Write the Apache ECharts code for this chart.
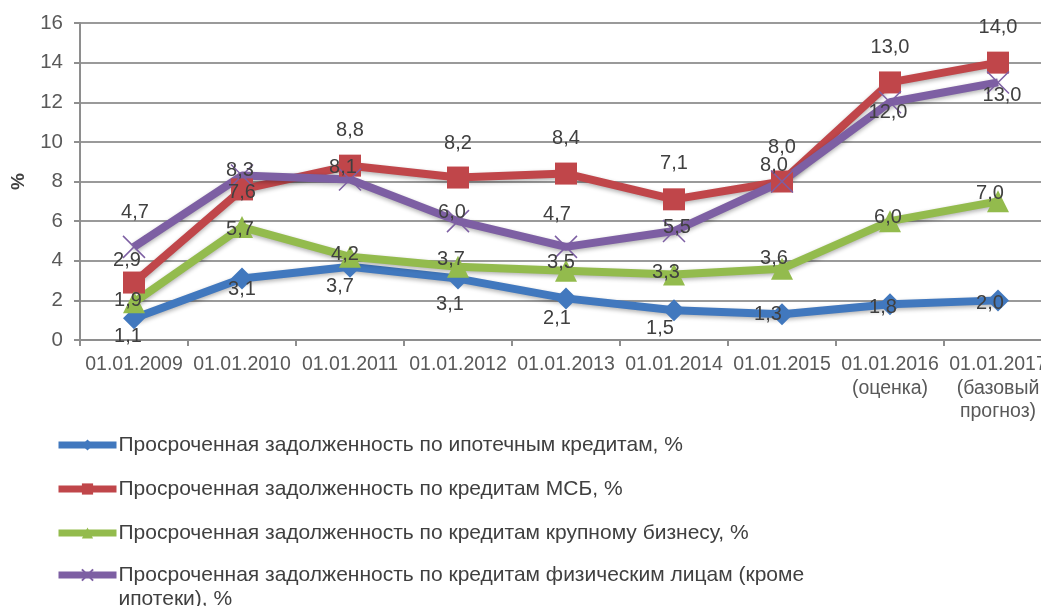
<!DOCTYPE html>
<html>
<head>
<meta charset="utf-8">
<script src="https://cdn.jsdelivr.net/npm/echarts@6/dist/echarts.min.js"></script>
<style>
html, body { margin: 0; padding: 0; background: #fff; }
#chart { width: 1041px; height: 606px; }
</style>
</head>
<body>
<div id="chart"></div>
<script>
var chartDom = document.getElementById('chart');
var chart = echarts.init(chartDom);

// categories
var dates = ['01.01.2009', '01.01.2010', '01.01.2011', '01.01.2012', '01.01.2013',
    '01.01.2014', '01.01.2015', '01.01.2016\n(оценка)', '01.01.2017\n(базовый\nпрогноз)'];

// series names
var nameMortgage = 'Просроченная задолженность по ипотечным кредитам, %';
var nameSme = 'Просроченная задолженность по кредитам МСБ, %';
var nameLarge = 'Просроченная задолженность по кредитам крупному бизнесу, %';
var namePersons = 'Просроченная задолженность по кредитам физическим лицам (кроме ипотеки), %';

// values
var mortgage = [1.1, 3.1, 3.7, 3.1, 2.1, 1.5, 1.3, 1.8, 2.0];
var sme = [2.9, 7.6, 8.8, 8.2, 8.4, 7.1, 8.0, 13.0, 14.0];
var large = [1.9, 5.7, 4.2, 3.7, 3.5, 3.3, 3.6, 6.0, 7.0];
var persons = [4.7, 8.3, 8.1, 6.0, 4.7, 5.5, 8.0, 12.0, 13.0];

// label shifts from point centre (as in the picture)
var shiftMortgage = [[-6, 18], [0, 11], [-10, 20], [-8, 26], [-9, 20], [-14, 18], [-14, 0], [-7, 3], [-8, 3]];
var shiftSme = [[-7, -22], [0, 3], [0, -35], [0, -34], [0, -35], [0, -36], [0, -34], [0, -35], [0, -35]];
var shiftLarge = [[-6, -2], [-2, 2], [-5, -2], [-7, -7], [-5, -8], [-8, -2], [-8, -10], [-2, -4], [-8, -8]];
var shiftPersons = [[1, -34], [-2, -5], [-7, -12], [-6, -9], [-9, -32], [3, -4], [-8, -16], [-2, 10], [4, 13]];

var crossPath = 'path://M0,0 L10,10 M10,0 L0,10';
var font = 'Liberation Sans, Arial, sans-serif';

function withLabels(values, shifts) {
    var out = [];
    for (var i = 0; i < values.length; i++) {
        out.push({ value: values[i], label: { offset: shifts[i] } });
    }
    return out;
}

function makeSeries(name, values, shifts, color, symbol, size) {
    return {
        name: name,
        type: 'line',
        data: withLabels(values, shifts),
        symbol: symbol,
        symbolSize: size,
        color: color,
        lineStyle: {
            width: 8,
            color: color,
            shadowColor: 'rgba(0,0,0,0.3)',
            shadowBlur: 4,
            shadowOffsetY: 2
        },
        itemStyle: {
            color: color,
            borderColor: color,
            borderWidth: symbol === crossPath ? 1.5 : 0
        },
        label: {
            show: true,
            position: 'inside',
            color: '#404040',
            fontSize: 20,
            fontFamily: font,
            formatter: function (p) {
                return p.value.toFixed(1).replace('.', ',');
            }
        },
        emphasis: { disabled: true },
        animation: false
    };
}

// shared legend look
function makeLegend(top, names, formatter) {
    return {
        orient: 'vertical',
        left: 55,
        top: top,
        height: 300,
        padding: 0,
        itemWidth: 58,
        itemHeight: 14,
        itemGap: 20,
        lineStyle: { width: 7 },
        textStyle: { fontSize: 21, color: '#404040', lineHeight: 24, padding: [0, 0, 0, -3] },
        formatter: formatter,
        data: names
    };
}

var option = {
    backgroundColor: '#fff',
    textStyle: { fontFamily: font },
    grid: { left: 80, top: 23, width: 972, height: 317, outerBoundsMode: 'none', containLabel: false },
    legend: [
        makeLegend(433, [nameMortgage, nameSme, nameLarge], function (name) { return name; }),
        // wrapped item: empty first line keeps the icon level with the first text line
        makeLegend(539, [namePersons], function (name) {
            return '\n' + name.replace(' (кроме ', ' (кроме\n');
        })
    ],
    xAxis: {
        type: 'category',
        data: dates,
        boundaryGap: true,
        axisLine: { lineStyle: { color: '#8e8e8e', width: 2 } },
        axisTick: { show: true, length: 6, lineStyle: { color: '#8e8e8e', width: 2 } },
        axisLabel: {
            interval: 0,
            margin: 13,
            fontSize: 19.5,
            lineHeight: 23.5,
            color: '#595959'
        }
    },
    yAxis: {
        type: 'value',
        min: 0,
        max: 16,
        interval: 2,
        name: '%',
        nameLocation: 'middle',
        nameRotate: 90,
        nameGap: 52,
        nameTextStyle: { fontSize: 19, fontWeight: 'bold', color: '#404040' },
        axisLine: { show: true, lineStyle: { color: '#8e8e8e', width: 2 } },
        axisTick: { show: true, length: 6, lineStyle: { color: '#8e8e8e', width: 2 } },
        axisLabel: { margin: 17, fontSize: 20.5, color: '#595959' },
        splitLine: { lineStyle: { color: '#9a9a9a', width: 2 } }
    },
    series: [
        makeSeries(nameMortgage, mortgage, shiftMortgage, '#4178be', 'diamond', 22),
        makeSeries(nameSme, sme, shiftSme, '#c0464a', 'rect', 22),
        makeSeries(nameLarge, large, shiftLarge, '#93bb4d', 'triangle', 22),
        makeSeries(namePersons, persons, shiftPersons, '#7d5fa3', crossPath, 22)
    ]
};

chart.setOption(option);
</script>
</body>
</html>
